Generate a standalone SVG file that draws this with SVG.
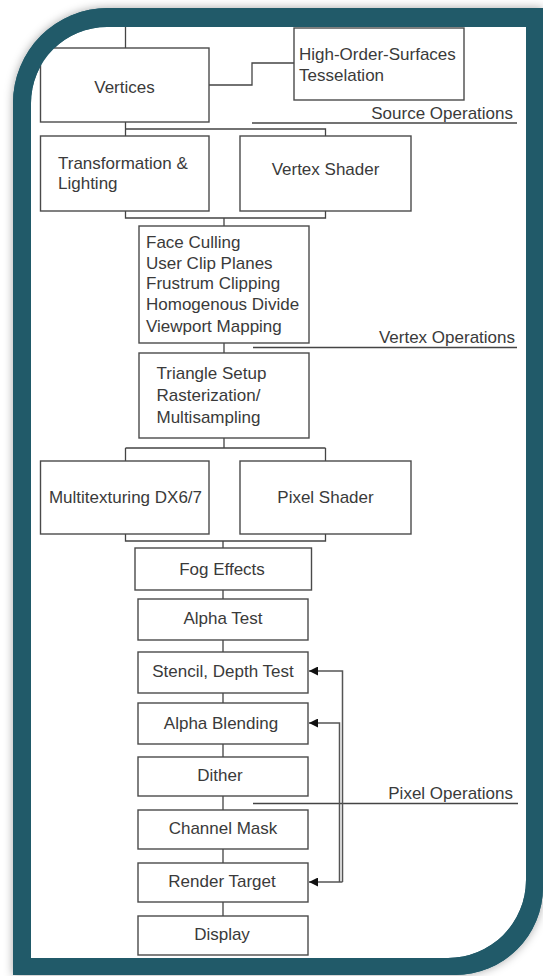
<svg xmlns="http://www.w3.org/2000/svg" width="543" height="976" viewBox="0 0 543 976">
  <style>
    .box { fill: #ffffff; stroke: #4a4a4a; stroke-width: 1.4; }
    .lbl { font-family: "Liberation Sans", Arial, sans-serif; font-size: 17px; fill: #3a3a3a; }
    .mid { text-anchor: middle; }
    .end { text-anchor: end; }
    .wire { fill: none; stroke: #444444; stroke-width: 1.3; }
    .fb { fill: none; stroke: #555555; stroke-width: 1.5; }
    .ring { fill: #215a69; }
  </style>
  <defs>
    <filter id="shadow" x="-10%" y="-10%" width="120%" height="120%">
      <feDropShadow dx="0" dy="0" stdDeviation="5" flood-color="#000000" flood-opacity="0.35"/>
    </filter>
    <marker id="arrow" markerWidth="9" markerHeight="9" refX="9" refY="4.5" orient="auto" markerUnits="userSpaceOnUse">
      <path d="M0,0 L9,4.5 L0,9 Z" fill="#111111"/>
    </marker>
  </defs>

  <!-- page background -->
  <rect x="0" y="0" width="543" height="976" fill="#ffffff"/>

  <!-- frame body with soft shadow -->
  <path class="ring" filter="url(#shadow)" d="M13,103 A95,95 0 0 1 108,8 L543,8 L543,887 A88,88 0 0 1 455,975 L13,975 Z"/>
  <!-- white panel -->
  <path fill="#ffffff" d="M31,103 A76,76 0 0 1 107,27 L526,27 L526,880 A78,78 0 0 1 448,958 L31,958 Z"/>

  <!-- connectors -->
  <g id="connectors">
    <path class="wire" d="M125.5,27 V48"/>
    <path class="wire" d="M209,85 H252 V63 H294"/>
    <path class="wire" d="M125.5,122 V129 H325.5 V136 M125.5,129 V136"/>
    <path class="wire" d="M125.5,211 V218 H325.5 V211 M224,218 V226"/>
    <path class="wire" d="M224,343 V353"/>
    <path class="wire" d="M224,438 V448 M125.5,448 H325.5 M125.5,448 V461 M325.5,448 V461"/>
    <path class="wire" d="M125.5,534 V541 H325.5 V534 M223,541 V548"/>
    <path class="wire" d="M223,590 V599 M223,640 V652 M223,693 V703 M223,744 V757 M223,796 V810 M223,849 V863 M223,902 V916"/>
    <!-- section rules -->
    <path class="wire" d="M252,123 H517"/>
    <path class="wire" d="M253,347.5 H517"/>
    <path class="wire" d="M253,803.5 H518"/>
    <!-- feedback from render target -->
    <path class="fb" d="M342.5,882 V671 H309" marker-end="url(#arrow)"/>
    <path class="fb" d="M339.5,882 V723 H309" marker-end="url(#arrow)"/>
    <path class="fb" d="M342.5,882 H309" marker-end="url(#arrow)"/>
  </g>

  <!-- section titles -->
  <text class="lbl end" x="513" y="119">Source Operations</text>
  <text class="lbl end" x="515" y="343">Vertex Operations</text>
  <text class="lbl end" x="513" y="799">Pixel Operations</text>

  <!-- nodes -->
  <g id="vertices">
    <rect class="box" x="40.5" y="48" width="168.5" height="74"/>
    <text class="lbl mid" x="124.5" y="93">Vertices</text>
  </g>
  <g id="hos">
    <rect class="box" x="294" y="28" width="170" height="72"/>
    <text class="lbl" x="299" y="60">High-Order-Surfaces</text>
    <text class="lbl" x="299" y="81">Tesselation</text>
  </g>
  <g id="tnl">
    <rect class="box" x="40.5" y="136" width="168.5" height="75"/>
    <text class="lbl" x="58" y="169">Transformation &amp;</text>
    <text class="lbl" x="58" y="189">Lighting</text>
  </g>
  <g id="vertex-shader">
    <rect class="box" x="240" y="136" width="171" height="75"/>
    <text class="lbl mid" x="325.5" y="175">Vertex Shader</text>
  </g>
  <g id="clipping">
    <rect class="box" x="139" y="226" width="170" height="117"/>
    <text class="lbl" x="146" y="248">Face Culling</text>
    <text class="lbl" x="146" y="269">User Clip Planes</text>
    <text class="lbl" x="146" y="289">Frustrum Clipping</text>
    <text class="lbl" x="146" y="310">Homogenous Divide</text>
    <text class="lbl" x="146" y="332">Viewport Mapping</text>
  </g>
  <g id="triangle-setup">
    <rect class="box" x="139" y="353" width="170" height="85"/>
    <text class="lbl" x="156.5" y="379">Triangle Setup</text>
    <text class="lbl" x="156.5" y="401">Rasterization/</text>
    <text class="lbl" x="156.5" y="423">Multisampling</text>
  </g>
  <g id="multitexturing">
    <rect class="box" x="40.5" y="461" width="168.5" height="73"/>
    <text class="lbl mid" x="125.5" y="503">Multitexturing DX6/7</text>
  </g>
  <g id="pixel-shader">
    <rect class="box" x="240" y="461" width="171" height="73"/>
    <text class="lbl mid" x="325.5" y="503">Pixel Shader</text>
  </g>
  <g id="fog">
    <rect class="box" x="135" y="548" width="176.5" height="42"/>
    <text class="lbl mid" x="222" y="575">Fog Effects</text>
  </g>
  <g id="alpha-test">
    <rect class="box" x="138" y="599" width="170" height="41"/>
    <text class="lbl mid" x="223" y="624">Alpha Test</text>
  </g>
  <g id="stencil-depth">
    <rect class="box" x="138" y="652" width="170" height="41"/>
    <text class="lbl mid" x="223" y="677">Stencil, Depth Test</text>
  </g>
  <g id="alpha-blending">
    <rect class="box" x="138" y="703" width="170" height="41"/>
    <text class="lbl mid" x="221" y="729">Alpha Blending</text>
  </g>
  <g id="dither">
    <rect class="box" x="138" y="757" width="170" height="39"/>
    <text class="lbl mid" x="220" y="781">Dither</text>
  </g>
  <g id="channel-mask">
    <rect class="box" x="138" y="810" width="170" height="39"/>
    <text class="lbl mid" x="223" y="834">Channel Mask</text>
  </g>
  <g id="render-target">
    <rect class="box" x="138" y="863" width="170" height="39"/>
    <text class="lbl mid" x="222" y="887">Render Target</text>
  </g>
  <g id="display">
    <rect class="box" x="138" y="916" width="170" height="39"/>
    <text class="lbl mid" x="222" y="940">Display</text>
  </g>

  <!-- frame band drawn over the panel edge -->
  <path class="ring" fill-rule="evenodd" d="M13,103 A95,95 0 0 1 108,8 L543,8 L543,887 A88,88 0 0 1 455,975 L13,975 Z M31,103 A76,76 0 0 1 107,27 L526,27 L526,880 A78,78 0 0 1 448,958 L31,958 Z"/>
</svg>
